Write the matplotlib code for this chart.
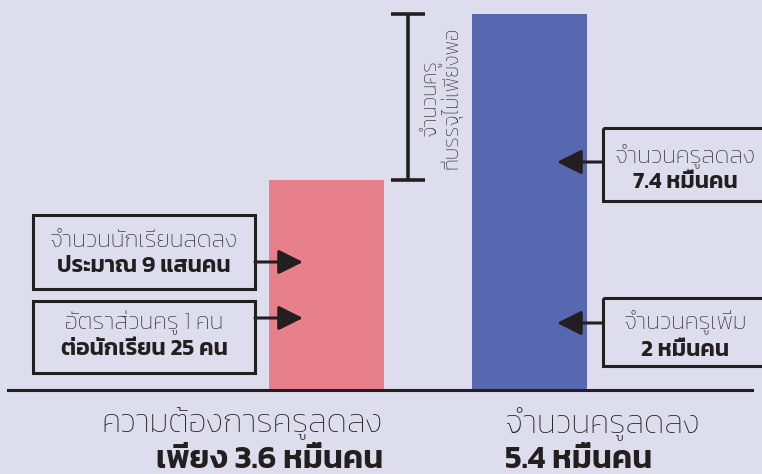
import matplotlib
matplotlib.use('Agg')
import matplotlib.pyplot as plt
from matplotlib.patches import Rectangle

# ข้อมูล (หน่วย: หมื่นคน)
categories = ['ความต้องการครูลดลง', 'จำนวนครูลดลง']
values = [3.6, 5.4]
value_labels = ['เพียง 3.6 หมื่นคน', '5.4 หมื่นคน']
gap_label = 'จำนวนครู\nที่บรรจุไม่เพียงพอ'

left_notes = [('จำนวนนักเรียนลดลง', 'ประมาณ 9 แสนคน'),
              ('อัตราส่วนครู 1 คน', 'ต่อนักเรียน 25 คน')]
right_notes = [('จำนวนครูลดลง', '7.4 หมื่นคน'),
               ('จำนวนครูเพิ่ม', '2 หมื่นคน')]

BG = '#dedded'
INK = '#231f20'
PINK = '#e8808b'
BLUE = '#5767b0'
FONT = ['Kanit', 'Prompt', 'DejaVu Sans']

plt.rcParams['font.family'] = FONT

fig = plt.figure(figsize=(7.62, 4.74), dpi=100, facecolor=BG)

# แกนของแท่งกราฟ (เส้นฐานอยู่ที่ขอบล่างของแกน)
ax = fig.add_axes([8 / 762, 84 / 474, 744 / 762, 390 / 474])
ax.set_facecolor(BG)
x = [0, 1]
ax.bar(x, values, width=0.566, color=[PINK, BLUE], zorder=2)
ax.set_xlim(-1.571, 2.094)
ax.set_ylim(1.323, 5.552)
for side in ['top', 'left', 'right']:
    ax.spines[side].set_visible(False)
ax.spines['bottom'].set_linewidth(2.2)
ax.spines['bottom'].set_color(INK)
ax.set_xticks([])
ax.set_yticks([])

# วงเล็บแสดงช่องว่างระหว่างสองแท่ง
bx = 0.399
cap = 0.084
ax.plot([bx, bx], [values[0], values[1]], color=INK, lw=2.6, solid_capstyle='butt')
for v in values:
    ax.plot([bx - cap, bx + cap], [v, v], color=INK, lw=2.6, solid_capstyle='butt')

# ชั้นสำหรับกล่องข้อความและลูกศร (พิกัดเป็นพิกเซล)
ann = fig.add_axes([0, 0, 1, 1], zorder=5)
ann.set_xlim(0, 762)
ann.set_ylim(474, 0)
ann.axis('off')
ann.patch.set_visible(False)

ann.text(440, 98, gap_label, rotation=90, ha='center', va='center',
         multialignment='center', fontsize=15, fontweight='light', color=INK,
         linespacing=1.0)

arrow = dict(arrowstyle='-|>,head_length=1.5,head_width=0.75', color=INK,
             lw=2.2, shrinkA=0, shrinkB=0, mutation_scale=10)


def note(box, lines, baselines, xc, start, tip, ya):
    x0, y0, x1, y1 = box
    ann.add_patch(Rectangle((x0, y0), x1 - x0, y1 - y0, fill=False,
                            edgecolor=INK, lw=2.2))
    ann.text(xc, baselines[0], lines[0], ha='center', va='baseline',
             fontsize=17, fontweight='light', color=INK)
    ann.text(xc, baselines[1], lines[1], ha='center', va='baseline',
             fontsize=16.5, fontweight='semibold', color=INK)
    ann.annotate('', xy=(tip, ya), xytext=(start, ya), arrowprops=arrow)


note((33, 215, 255, 289), left_notes[0], (247, 272), 144, 255, 303, 262)
note((33, 301, 255, 373), left_notes[1], (329, 355), 144, 255, 303, 318)
note((603, 128, 775, 201), right_notes[0], (162, 188), 685, 603, 557, 162)
note((603, 298, 775, 366), right_notes[1], (328, 356), 685, 603, 557, 323)

# ป้ายใต้แท่งกราฟ
ann.text(383, 432, categories[0], ha='right', va='baseline', fontsize=23.5,
         fontweight='light', color=INK)
ann.text(383, 468, value_labels[0], ha='right', va='baseline', fontsize=23,
         fontweight='semibold', color=INK)
ann.text(505, 432, categories[1], ha='left', va='baseline', fontsize=23.5,
         fontweight='light', color=INK)
ann.text(505, 468, value_labels[1], ha='left', va='baseline', fontsize=23,
         fontweight='semibold', color=INK)

fig.savefig('out.png', dpi=100, facecolor=BG)
